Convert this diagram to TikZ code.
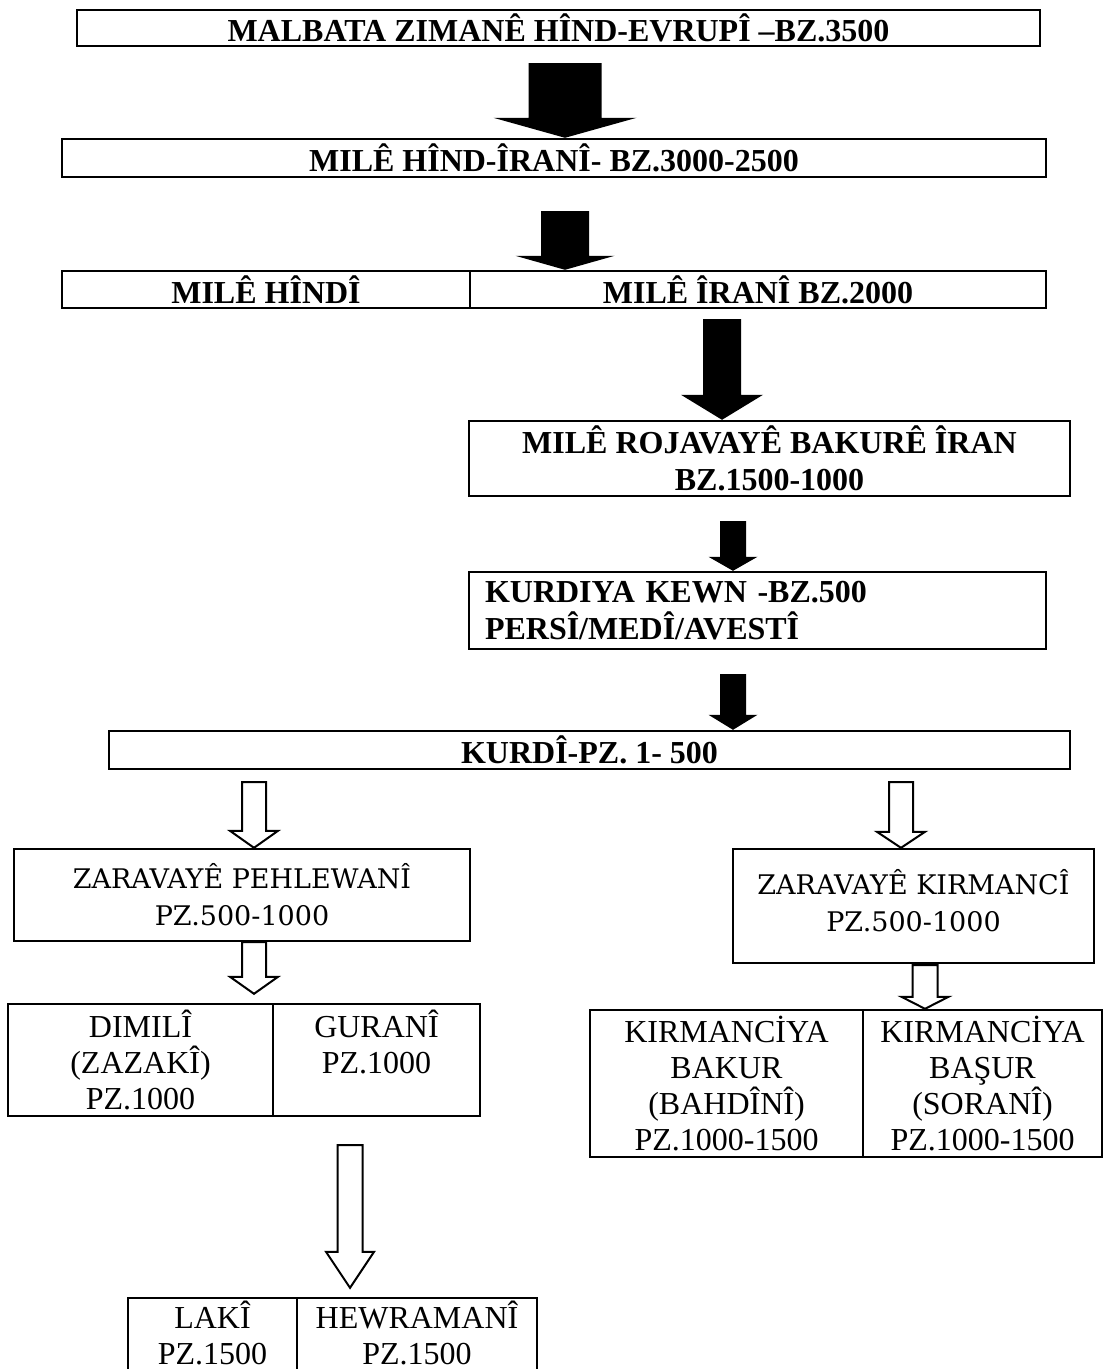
\documentclass[tikz,border=0pt]{standalone}
\usepackage{fontspec}
\setmainfont{Liberation Serif}
\newfontfamily\cambria{DejaVu Serif}
\usepackage{tikz}
\usetikzlibrary{calc}
\tikzset{ box/.style={draw,line width=2.4pt,inner sep=0pt,align=center,font=\fontsize{32}{36}\selectfont},
  hbox/.style={box,font=\fontsize{32}{37}\selectfont\bfseries},
  cbox/.style={box,font=\fontsize{27}{37}\selectfont\cambria},
  blk/.style={fill=black},
  wht/.style={draw,fill=white,line width=2pt,line join=miter} }
% [style]{from}{to}{shaft half width}{head half width}{head length}
\newcommand{\blockarrow}[6][blk]{%
  \path[#1] let \p1=(#2), \p2=(#3) in
    (\x1-#4,\y1) -- (\x1+#4,\y1) -- (\x1+#4,\y2+#6) -- (\x1+#5,\y2+#6) --
    (\x1,\y2) -- (\x1-#5,\y2+#6) -- (\x1-#4,\y2+#6) -- cycle;}

\begin{document}
\begin{tikzpicture}[x=1pt,y=-1pt]
   \useasboundingbox (0,0) rectangle (1104,1369);
   \fill[white] (0,0) rectangle (1104,1369);
   \clip (0,0) rectangle (1104,1369);
   \node[hbox,minimum width=963pt,minimum height=36pt] (malbata) at (558.5,28) {MALBATA ZIMANÊ HÎND-EVRUPÎ –BZ.3500};
   \node[hbox,minimum width=984pt,minimum height=38pt] (hindirani) at (554,158) {MILÊ HÎND-ÎRANÎ- BZ.3000-2500};
   \node[hbox,minimum width=408pt,minimum height=37pt] (hindi) at (266,289.5) {MILÊ HÎNDÎ};
   \node[hbox,minimum width=576pt,minimum height=37pt] (irani) at (758,289.5) {MILÊ ÎRANÎ BZ.2000};
   \node[hbox,minimum width=601pt,minimum height=75pt] (rojava) at (769.5,458.5) {MILÊ ROJAVAYÊ BAKURÊ ÎRAN\\BZ.1500-1000};
   \node[hbox,align=left,text width=545pt,inner xsep=16pt,minimum height=77pt] (kewn) at (757.5,610.5) {KURDIYA KEWN -BZ.500\\PERSÎ/MEDÎ/AVESTÎ};
   \node[hbox,minimum width=961pt,minimum height=38pt] (kurdi) at (589.5,750) {KURDÎ-PZ. 1- 500};
   \node[cbox,minimum width=456pt,minimum height=92pt] (pehl) at (242,895) {ZARAVAYÊ PEHLEWANÎ\\PZ.500-1000};
   \node[cbox,minimum width=361pt,minimum height=114pt] (kirm) at (913.5,906) {ZARAVAYÊ KIRMANCÎ\\PZ.500-1000\\[-25pt]\mbox{}};
   \node[box,minimum width=265pt,minimum height=112pt] (dimili) at (140.5,1060) {DIMILÎ\\(ZAZAKÎ)\\PZ.1000};
   \node[box,minimum width=207pt,minimum height=112pt] (gurani) at (376.5,1060) {GURANÎ\\PZ.1000\\\mbox{}};
   \node[box,minimum width=273pt,minimum height=147pt] (bakur) at (726.5,1083.5) {KIRMANCİYA\\BAKUR\\(BAHDÎNÎ)\\PZ.1000-1500};
   \node[box,minimum width=239pt,minimum height=147pt] (basur) at (982.5,1083.5) {KIRMANCİYA\\BAŞUR\\(SORANÎ)\\PZ.1000-1500};
   \node[box,minimum width=169pt,minimum height=76pt] (laki) at (212.5,1336) {LAKÎ\\PZ.1500\\[-30pt]\mbox{}};
   \node[box,minimum width=240pt,minimum height=76pt] (hewr) at (417,1336) {HEWRAMANÎ\\PZ.1500\\[-30pt]\mbox{}};
   \coordinate (a1) at (565,63);
   \coordinate (a2) at (565,211);
   \coordinate (a3) at (722,319);
   \coordinate (a4) at (733,521);
   \coordinate (a5) at (733,674);
   \coordinate (o1) at (254,782);
   \coordinate (o2) at (254,942);
   \coordinate (o3) at (901,782);
   \coordinate (o4) at (925,965);
   \coordinate (o5) at (350,1145);
   \blockarrow{a1}{hindirani.north}{36.5pt}{71.5pt}{20pt}
   \blockarrow{a2}{irani.north}{24pt}{49.5pt}{14pt}
   \blockarrow{a3}{rojava.north}{19pt}{41pt}{25pt}
   \blockarrow{a4}{kewn.north}{13pt}{24.5pt}{14pt}
   \blockarrow{a5}{kurdi.north}{13pt}{24.5pt}{15pt}
   \blockarrow[wht]{o1}{pehl.north}{12pt}{24pt}{17pt}
   \blockarrow[wht]{o2}{[yshift=9pt]dimili.north}{12pt}{24pt}{17pt}
   \blockarrow[wht]{o3}{kirm.north}{12pt}{24pt}{16pt}
   \blockarrow[wht]{o4}{basur.north}{12.5pt}{23.5pt}{12pt}
   \blockarrow[wht]{o5}{[yshift=9pt]hewr.north}{12.5pt}{24pt}{36pt}
  \end{tikzpicture}
\end{document}
